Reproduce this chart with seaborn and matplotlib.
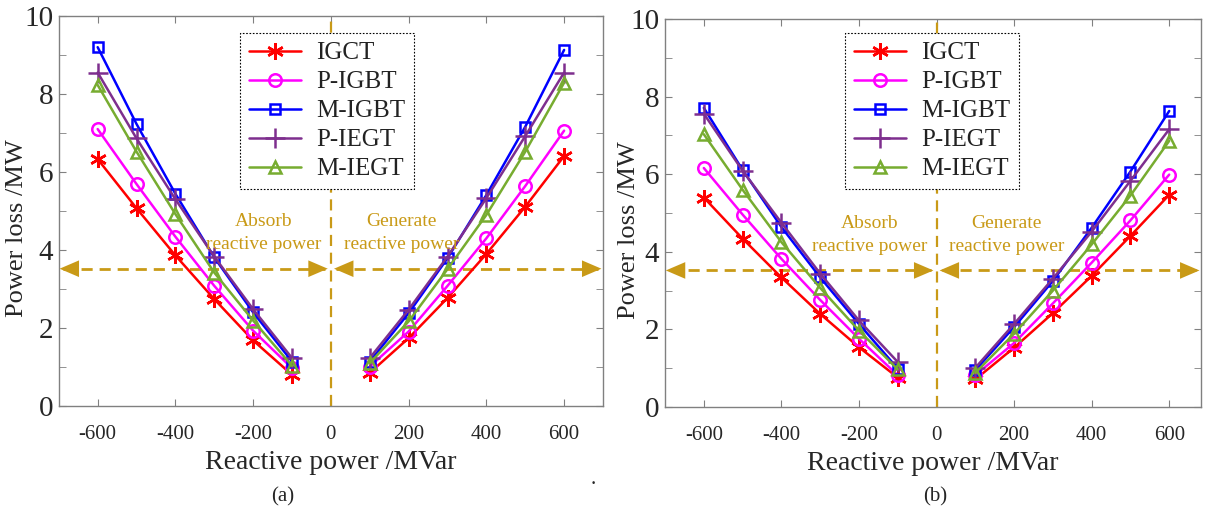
import numpy as np
import pandas as pd
import seaborn as sns
import matplotlib
matplotlib.use("Agg")
from matplotlib import pyplot as plt
from matplotlib.lines import Line2D
from matplotlib.ticker import MultipleLocator

# reactive power set-points (MVar)
q_mvar = [-600, -500, -400, -300, -200, -100, 100, 200, 300, 400, 500, 600]
branch = ["absorb"] * 6 + ["generate"] * 6

devices = ["IGCT", "P-IGBT", "M-IGBT", "P-IEGT", "M-IEGT"]

# panel (a) power loss /MW
loss_a_igct = [6.33, 5.07, 3.86, 2.74, 1.68, 0.80, 0.85, 1.74, 2.77, 3.90, 5.11, 6.41]
loss_a_pigbt = [7.10, 5.69, 4.34, 3.08, 1.93, 0.97, 1.01, 1.91, 3.08, 4.30, 5.64, 7.06]
loss_a_migbt = [9.20, 7.23, 5.44, 3.81, 2.40, 1.14, 1.14, 2.38, 3.79, 5.41, 7.16, 9.13]
loss_a_piegt = [8.55, 6.86, 5.30, 3.83, 2.48, 1.23, 1.23, 2.47, 3.83, 5.33, 6.92, 8.55]
loss_a_miegt = [8.23, 6.52, 4.92, 3.42, 2.19, 1.03, 1.10, 2.17, 3.51, 4.90, 6.52, 8.29]

# panel (b) power loss /MW
loss_b_igct = [5.40, 4.34, 3.34, 2.40, 1.54, 0.76, 0.71, 1.53, 2.42, 3.38, 4.41, 5.47]
loss_b_pigbt = [6.16, 4.96, 3.82, 2.76, 1.76, 0.82, 0.82, 1.65, 2.67, 3.72, 4.81, 5.99]
loss_b_migbt = [7.71, 6.11, 4.64, 3.34, 2.14, 0.99, 0.95, 2.06, 3.25, 4.62, 6.07, 7.63]
loss_b_piegt = [7.56, 6.09, 4.75, 3.44, 2.23, 1.16, 1.01, 2.14, 3.31, 4.52, 5.83, 7.16]
loss_b_miegt = [7.03, 5.60, 4.25, 3.07, 1.97, 0.97, 0.88, 1.89, 3.00, 4.19, 5.45, 6.86]

loss_a = [loss_a_igct, loss_a_pigbt, loss_a_migbt, loss_a_piegt, loss_a_miegt]
loss_b = [loss_b_igct, loss_b_pigbt, loss_b_migbt, loss_b_piegt, loss_b_miegt]

colors = {"IGCT": "#FF0000", "P-IGBT": "#FF00FF", "M-IGBT": "#0000FF",
          "P-IEGT": "#7E2F8E", "M-IEGT": "#77AC30"}
markers = {"IGCT": (6, 2, 0), "P-IGBT": "o", "M-IGBT": "s", "P-IEGT": "+", "M-IEGT": "^"}
msizes = {"IGCT": 12, "P-IGBT": 9, "M-IGBT": 7, "P-IEGT": 15, "M-IEGT": 9}
gold = "#C99A17"


def make_df(values):
    rows = []
    for dev, vals in zip(devices, values):
        rows.append(pd.DataFrame({"Q": q_mvar, "loss": vals, "branch": branch, "device": dev}))
    return pd.concat(rows, ignore_index=True)


sns.set_style("white")
plt.rcParams["font.family"] = ["Liberation Serif", "DejaVu Serif"]
plt.rcParams["axes.unicode_minus"] = False
plt.rcParams["xtick.direction"] = "in"
plt.rcParams["ytick.direction"] = "in"

fig = plt.figure(figsize=(12.05, 5.13), dpi=100)
ax_a = fig.add_axes([0.0488, 0.2086, 0.4516, 0.7602])
ax_b = fig.add_axes([0.5519, 0.2066, 0.4448, 0.7563])


def draw_panel(ax, values, xmax, legend_x, ylab_x):
    df = make_df(values)
    for dev in devices:
        sub = df[df["device"] == dev]
        sns.lineplot(data=sub, x="Q", y="loss", units="branch", estimator=None,
                     color=colors[dev], marker=markers[dev], markersize=msizes[dev],
                     markeredgecolor=colors[dev], markerfacecolor="none",
                     markeredgewidth=1.8, linewidth=1.8, ax=ax, zorder=3)

    ax.set_xlim(-700, xmax)
    ax.set_ylim(0, 10)
    ax.xaxis.set_major_locator(MultipleLocator(200))
    ax.yaxis.set_major_locator(MultipleLocator(2))
    ax.yaxis.set_minor_locator(MultipleLocator(1))
    ax.tick_params(axis="x", which="both", top=True, bottom=True, length=5,
                   color="#808080", labelsize=15, pad=14)
    ax.tick_params(axis="y", which="both", left=True, right=True, length=5,
                   color="#808080", labelsize=21, pad=4)
    for sp in ax.spines.values():
        sp.set_color("#808080")
        sp.set_linewidth(1.0)

    ax.set_xlabel("Reactive power /MVar", fontsize=20, labelpad=4)
    ax.set_ylabel("Power loss /MW", fontsize=19)
    ax.yaxis.set_label_coords(ylab_x, 0.455)

    # divider and direction arrows
    ax.axvline(0, color=gold, linestyle=(0, (5, 3)), linewidth=1.6, zorder=1)
    y_arr = 3.52
    ax.plot([-688, -14], [y_arr, y_arr], color=gold, linestyle=(0, (4, 2.5)),
            linewidth=2.0, zorder=1)
    ax.plot([14, xmax - 14], [y_arr, y_arr], color=gold, linestyle=(0, (4, 2.5)),
            linewidth=2.0, zorder=1)
    head = dict(arrowstyle="-|>,head_length=0.7,head_width=0.3", color=gold,
                lw=0, mutation_scale=20, shrinkA=0, shrinkB=0)
    ax.annotate("", xy=(-698, y_arr), xytext=(-660, y_arr), arrowprops=head)
    ax.annotate("", xy=(-8, y_arr), xytext=(-46, y_arr), arrowprops=head)
    ax.annotate("", xy=(8, y_arr), xytext=(46, y_arr), arrowprops=head)
    ax.annotate("", xy=(xmax - 4, y_arr), xytext=(xmax - 42, y_arr), arrowprops=head)

    ax.text(-172, 4.72, "Absorb", color=gold, fontsize=14, ha="center", va="center")
    ax.text(-172, 4.13, "reactive power", color=gold, fontsize=14, ha="center", va="center")
    ax.text(181, 4.72, "Generate", color=gold, fontsize=14, ha="center", va="center")
    ax.text(181, 4.13, "reactive power", color=gold, fontsize=14, ha="center", va="center")

    handles = [Line2D([], [], color=colors[d], marker=markers[d], markersize=msizes[d],
                      markeredgecolor=colors[d], markerfacecolor="none",
                      markeredgewidth=1.8, linewidth=1.8) for d in devices]
    leg = ax.legend(handles, devices, loc="upper left",
                    bbox_to_anchor=(legend_x, 1 - 33 / 513), bbox_transform=fig.transFigure,
                    borderaxespad=0, fontsize=18, handlelength=2.1, handletextpad=0.6,
                    labelspacing=0.26, borderpad=0.35, fancybox=False, framealpha=1,
                    edgecolor="black")
    leg.get_frame().set_linestyle((0, (1.5, 1.5)))
    leg.get_frame().set_linewidth(0.8)
    for t in leg.get_texts():
        t.set_color("#222222")
    leg.set_zorder(5)


draw_panel(ax_a, loss_a, 700, 240 / 1205, -0.057)
draw_panel(ax_b, loss_b, 682, 845 / 1205, -0.047)

fig.text(283 / 1205, 1 - 497 / 513, "(a)", fontsize=15, ha="center", va="center")
fig.text(935 / 1205, 1 - 497 / 513, "(b)", fontsize=15, ha="center", va="center")
fig.text(593 / 1205, 1 - 480 / 513, ".", fontsize=15, ha="center", va="center")

fig.savefig("out.png", dpi=100)
